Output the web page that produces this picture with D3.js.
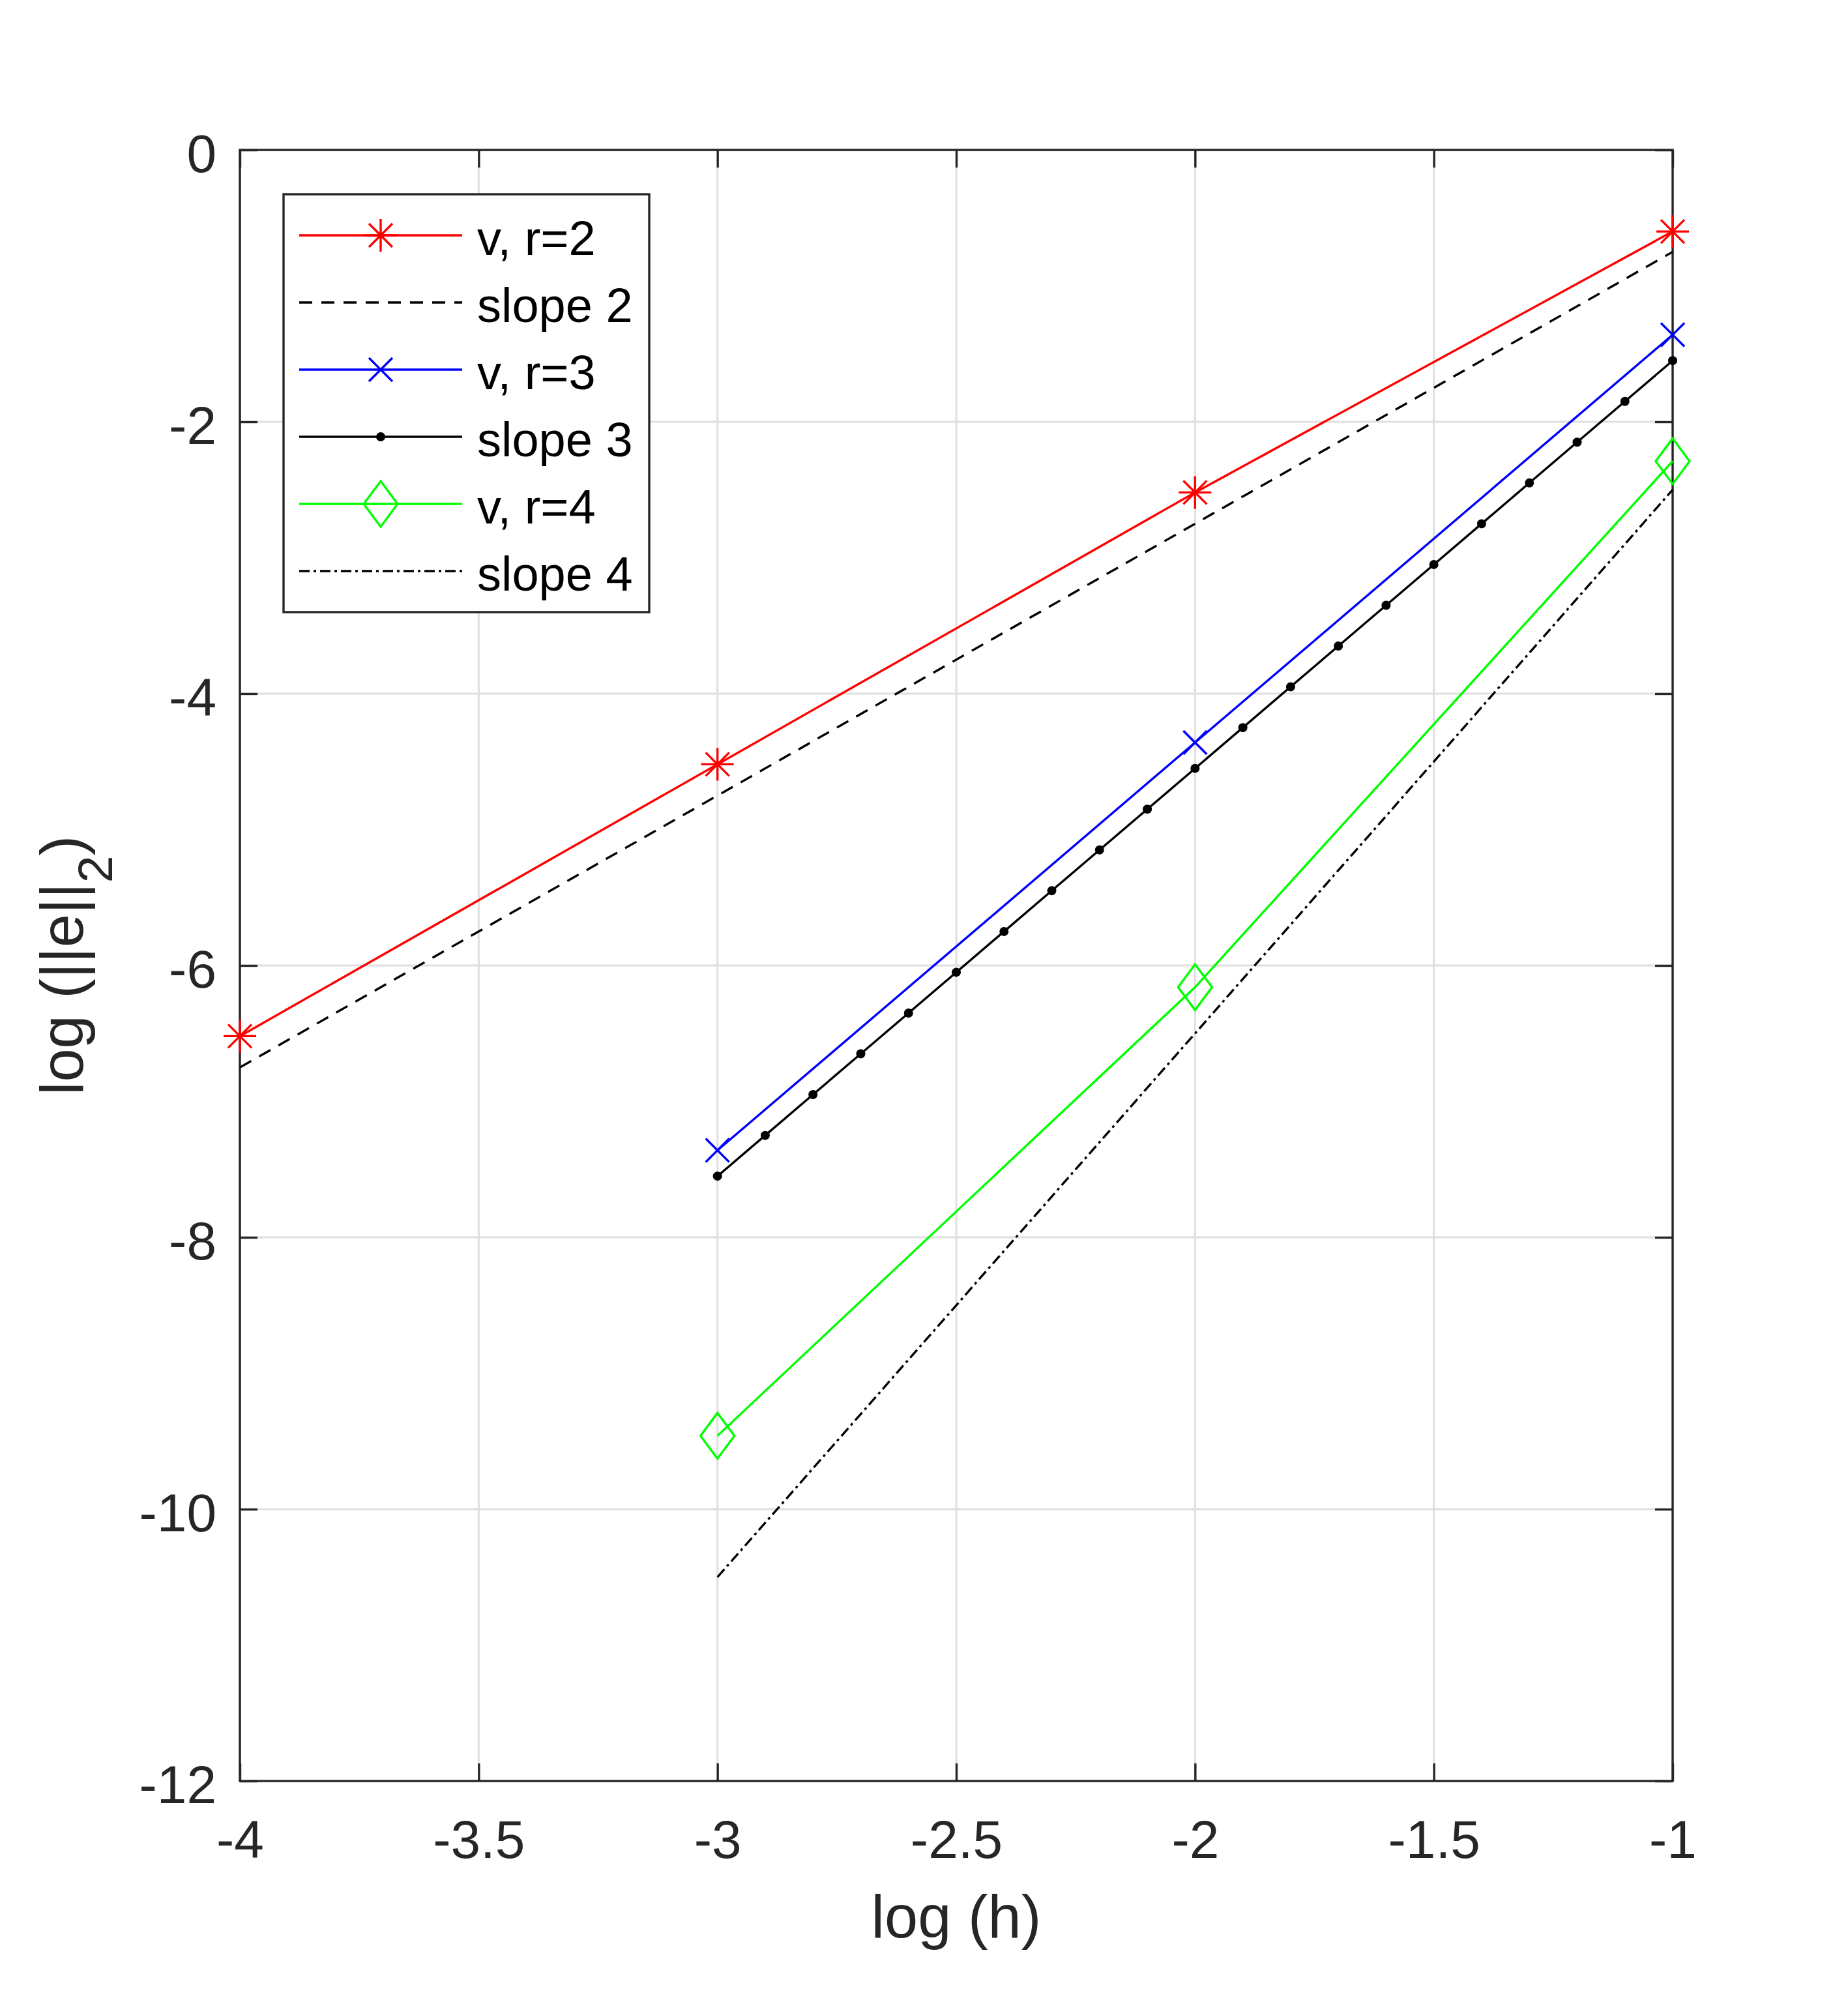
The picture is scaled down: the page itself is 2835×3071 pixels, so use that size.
<!DOCTYPE html>
<html lang="en">
<head>
<meta charset="UTF-8">
<title>Convergence plot</title>
<script src="https://d3js.org/d3.v7.min.js"></script>
<style>
  body { margin: 0; background: #fff; }
  svg { display: block; font-family: "Liberation Sans", Arial, Helvetica, sans-serif; }
</style>
</head>
<body>
<svg id="chart"></svg>
<script>
// tick values
const xTicks = [-4, -3.5, -3, -2.5, -2, -1.5, -1];
const yTicks = [-12, -10, -8, -6, -4, -2, 0];

// series
const r2X = [-4, -3, -2, -1];
const r2Y = [-6.52, -4.52, -2.52, -0.60];
const slope2X = [-4, -1];
const slope2Y = [-6.75, -0.75];
const r3X = [-3, -2, -1];
const r3Y = [-7.36, -4.36, -1.36];
const slope3X = [-3, -2.9, -2.8, -2.7, -2.6, -2.5, -2.4, -2.3, -2.2, -2.1, -2, -1.9, -1.8, -1.7, -1.6, -1.5, -1.4, -1.3, -1.2, -1.1, -1];
const slope3Y = [-7.55, -7.25, -6.95, -6.65, -6.35, -6.05, -5.75, -5.45, -5.15, -4.85, -4.55, -4.25, -3.95, -3.65, -3.35, -3.05, -2.75, -2.45, -2.15, -1.85, -1.55];
const r4X = [-3, -2, -1];
const r4Y = [-9.46, -6.16, -2.29];
const slope4X = [-3, -1];
const slope4Y = [-10.5, -2.5];

const legendLabels = ["v, r=2", "slope 2", "v, r=3", "slope 3", "v, r=4", "slope 4"];

const W = 2835, H = 3071;
const plot = { left: 368, right: 2566, top: 230, bottom: 2732 };
const axisColor = "#262626";
const lw = 3.4;

const svg = d3.select("#chart").attr("width", W).attr("height", H);
svg.append("rect").attr("width", W).attr("height", H).attr("fill", "#fff");

const x = d3.scaleLinear().domain([-4, -1]).range([plot.left, plot.right]);
const y = d3.scaleLinear().domain([-12, 0]).range([plot.bottom, plot.top]);

// marker shapes
const markers = {
  star: "M0,-25V25M-25,0H25M-18,-18L18,18M-18,18L18,-18",
  cross: "M-18,-18L18,18M-18,18L18,-18",
  diamond: "M0,-35L26,0L0,35L-26,0Z"
};

const series = [
  { xs: r2X, ys: r2Y, color: "#ff0000", dash: null, marker: "star" },
  { xs: slope2X, ys: slope2Y, color: "#000", dash: "20,14", marker: null },
  { xs: r3X, ys: r3Y, color: "#0000ff", dash: null, marker: "cross" },
  { xs: slope3X, ys: slope3Y, color: "#000", dash: null, marker: "dot" },
  { xs: r4X, ys: r4Y, color: "#00ff00", dash: null, marker: "diamond" },
  { xs: slope4X, ys: slope4Y, color: "#000", dash: "16,6,4,6", marker: null }
];

// grid
const grid = svg.append("g").attr("stroke", "#dfdfdf").attr("stroke-width", 3);
grid.selectAll(".gx").data(xTicks).join("line")
  .attr("x1", d => x(d)).attr("x2", d => x(d))
  .attr("y1", plot.top).attr("y2", plot.bottom);
grid.selectAll(".gy").data(yTicks).join("line")
  .attr("y1", d => y(d)).attr("y2", d => y(d))
  .attr("x1", plot.left).attr("x2", plot.right);

// axes (ticks pointing inward)
const fmt = d => String(d);
function styleAxis(g) {
  g.select(".domain").remove();
  g.selectAll(".tick line").attr("stroke", axisColor).attr("stroke-width", lw);
  g.selectAll(".tick text").attr("fill", axisColor).attr("font-size", 82)
    .attr("font-family", "'Liberation Sans', Arial, Helvetica, sans-serif");
}

const gx = svg.append("g").attr("transform", `translate(0,${plot.bottom})`)
  .call(d3.axisBottom(x).tickValues(xTicks).tickFormat(fmt).tickSizeInner(-27).tickSizeOuter(0).tickPadding(58));
styleAxis(gx);
gx.selectAll(".tick text").attr("y", 118).attr("dy", null);

const gy = svg.append("g").attr("transform", `translate(${plot.left},0)`)
  .call(d3.axisLeft(y).tickValues(yTicks).tickFormat(fmt).tickSizeInner(-27).tickSizeOuter(0).tickPadding(36));
styleAxis(gy);
gy.selectAll(".tick text").attr("dy", 33);

const gt = svg.append("g").attr("transform", `translate(0,${plot.top})`)
  .call(d3.axisTop(x).tickValues(xTicks).tickFormat("").tickSizeInner(-27).tickSizeOuter(0));
styleAxis(gt);
const gr = svg.append("g").attr("transform", `translate(${plot.right},0)`)
  .call(d3.axisRight(y).tickValues(yTicks).tickFormat("").tickSizeInner(-27).tickSizeOuter(0));
styleAxis(gr);

svg.append("rect")
  .attr("x", plot.left).attr("y", plot.top)
  .attr("width", plot.right - plot.left).attr("height", plot.bottom - plot.top)
  .attr("fill", "none").attr("stroke", axisColor).attr("stroke-width", lw);

// axis labels
svg.append("text")
  .attr("x", (plot.left + plot.right) / 2).attr("y", 2972)
  .attr("text-anchor", "middle").attr("font-size", 92).attr("fill", axisColor)
  .text("log (h)");

const yl = svg.append("text")
  .attr("transform", `translate(127,${(plot.top + plot.bottom) / 2}) rotate(-90)`)
  .attr("text-anchor", "middle").attr("font-size", 92).attr("fill", axisColor);
yl.append("tspan").text("log (||e||");
yl.append("tspan").attr("font-size", 75).attr("dy", 45).text("2");
yl.append("tspan").attr("dy", -45).text(")");

// data
const line = d3.line().x(d => x(d[0])).y(d => y(d[1]));
function drawMarker(g, kind, color) {
  if (kind === "dot") {
    g.append("circle").attr("r", 7).attr("fill", color);
  } else if (kind) {
    g.append("path").attr("d", markers[kind]).attr("fill", "none")
      .attr("stroke", color).attr("stroke-width", lw);
  }
}

series.forEach(s => {
  const pts = s.xs.map((v, i) => [v, s.ys[i]]);
  svg.append("path").datum(pts)
    .attr("d", line).attr("fill", "none")
    .attr("stroke", s.color).attr("stroke-width", lw)
    .attr("stroke-dasharray", s.dash);
  if (s.marker) {
    pts.forEach(p => {
      const g = svg.append("g").attr("transform", `translate(${x(p[0])},${y(p[1])})`);
      drawMarker(g, s.marker, s.color);
    });
  }
});

// legend
const leg = svg.append("g");
leg.append("rect").attr("x", 435).attr("y", 298).attr("width", 561).attr("height", 641)
  .attr("fill", "#fff").attr("stroke", axisColor).attr("stroke-width", lw);
series.forEach((s, i) => {
  const cy = 361 + i * 103;
  const row = leg.append("g").attr("transform", `translate(0,${cy})`);
  row.append("line").attr("x1", 459).attr("x2", 709).attr("y1", 0).attr("y2", 0)
    .attr("stroke", s.color).attr("stroke-width", lw).attr("stroke-dasharray", s.dash);
  drawMarker(row.append("g").attr("transform", "translate(584,0)"), s.marker, s.color);
  row.append("text").attr("x", 732).attr("y", 30).attr("font-size", 74).attr("fill", "#000")
    .text(legendLabels[i]);
});
</script>
</body>
</html>
